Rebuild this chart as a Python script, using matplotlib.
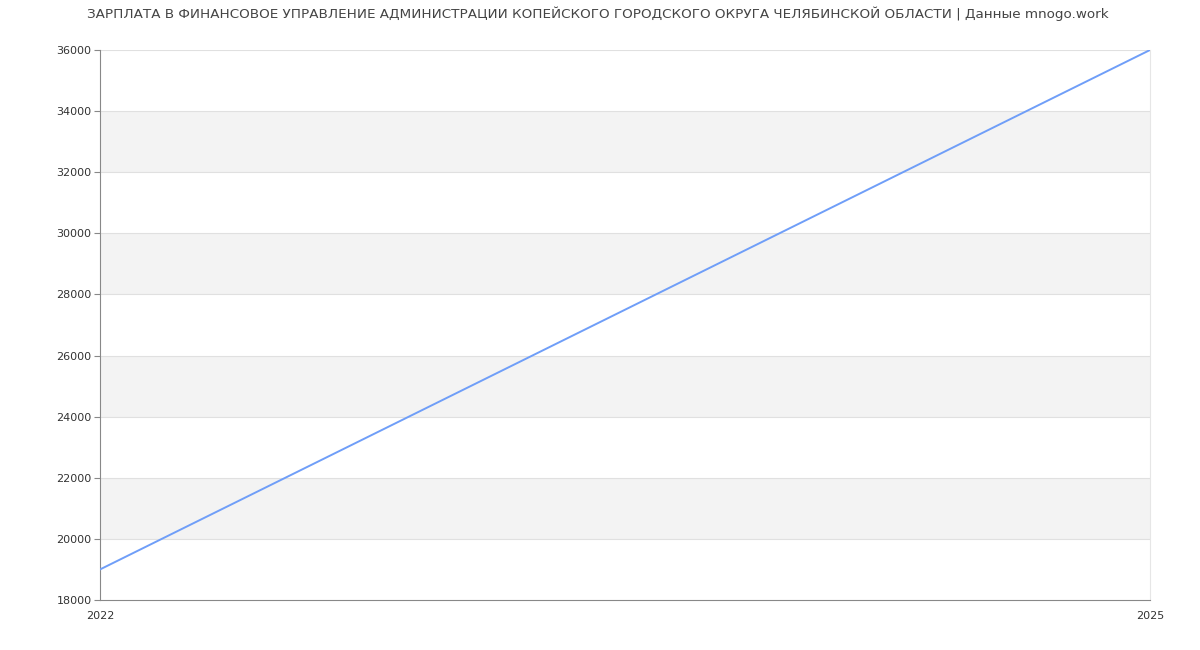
import matplotlib.pyplot as plt

# Salary data
years = [2022, 2025]
salary = [19000, 36000]
yticks = list(range(18000, 36001, 2000))
title = ("ЗАРПЛАТА В ФИНАНСОВОЕ УПРАВЛЕНИЕ АДМИНИСТРАЦИИ КОПЕЙСКОГО ГОРОДСКОГО "
         "ОКРУГА ЧЕЛЯБИНСКОЙ ОБЛАСТИ | Данные mnogo.work")

plt.rcParams['font.family'] = ['DejaVu Sans']

fig = plt.figure(figsize=(12, 6.5), dpi=100)
ax = fig.add_axes([100 / 1200, 50 / 650, 1050 / 1200, 550 / 650])

# alternating horizontal bands
for i, lo in enumerate(yticks[:-1]):
    if i % 2 == 1:
        ax.axhspan(lo, lo + 2000, color='#f3f3f3', zorder=0, lw=0)
for t in yticks[1:]:
    ax.axhline(t, color='#e0e0e0', lw=0.8, zorder=1)

ax.plot(years, salary, color='#6f9ef8', lw=1.4, zorder=3)

ax.set_xlim(years[0], years[-1])
ax.set_ylim(yticks[0], yticks[-1])
ax.set_yticks(yticks)
ax.set_yticklabels([str(t) for t in yticks])
ax.set_xticks(years)
ax.set_xticklabels([str(y) for y in years])

ax.tick_params(axis='y', labelsize=8, colors='#333333', length=4, width=0.8,
               direction='out', pad=2)
ax.tick_params(axis='y', color='#888888')
ax.tick_params(axis='x', labelsize=8, colors='#333333', length=0, pad=8)
for lbl in ax.get_xticklabels():
    lbl.set_x(lbl.get_position()[0])

for s in ['left', 'bottom']:
    ax.spines[s].set_color('#888888')
    ax.spines[s].set_linewidth(0.8)
ax.spines['top'].set_visible(False)
ax.spines['right'].set_color('#e6e6e6')
ax.spines['right'].set_linewidth(0.8)

fig.text(598 / 1200, 1 - 14 / 650, title, ha='center', va='center',
         fontsize=9.7, color='#444444')

fig.savefig('out.png', dpi=100)
